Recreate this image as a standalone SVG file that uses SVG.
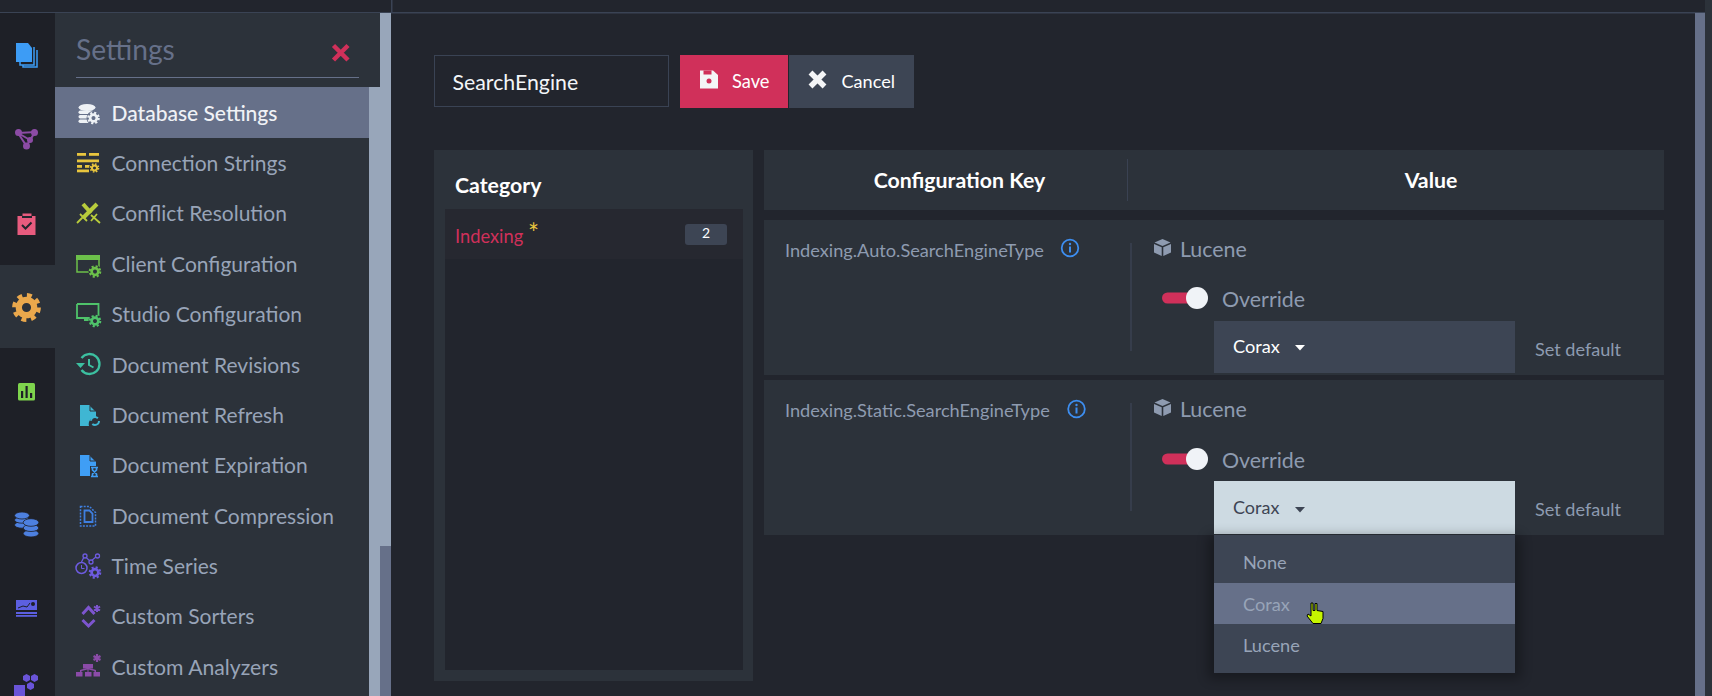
<svg xmlns="http://www.w3.org/2000/svg" xmlns:xlink="http://www.w3.org/1999/xlink" width="1712" height="696" viewBox="0 0 1712 696">
<style>
text{font-family:Lato,"Noto Sans","Liberation Sans",sans-serif}
.m{font-size:21px;fill:#98a4b8}
.k{font-size:18.2px;fill:#8e9bb0}
.h{font-size:21.3px;font-weight:700;fill:#fff}
.l{font-size:21.4px;fill:#8e9bb0}
.s{font-size:18.1px;fill:#8e9bb0}
.d{font-size:18.2px;fill:#98a4b8}
.panel{fill:#2c323a}
.dd{fill:#3d4554}
.dv{stroke:#3a4252;stroke-width:1.5}
</style>
<defs>
<g id="gear"><circle r="3.2" fill="none" stroke="currentColor" stroke-width="2.6"/><circle r="5" fill="none" stroke="currentColor" stroke-width="2" stroke-dasharray="2 1.93"/></g>
<g id="box"><path d="M0 -8.500 8 -5 0 -1.600 -8 -5Z" fill="#8e9bb0"/><path d="M-8.500 -3.600 -.8 -.2V8.500L-8.500 5Z M8.500 -3.600 .8 -.2V8.500L8.500 5Z" fill="#8e9bb0"/></g>
<g id="info"><circle r="8.300" fill="none" stroke="#3d8ef0" stroke-width="1.800"/><rect x="-1" y="-1.500" width="2" height="6" fill="#3d8ef0"/><circle cy="-4" r="1.200" fill="#3d8ef0"/></g>
<g id="tog"><rect x="0" y="-5.500" width="30" height="11" rx="5.500" fill="#d0305a"/><circle cx="35" r="11" fill="#f0f3f7"/></g>
<filter id="sh" x="-10%" y="-20%" width="120%" height="140%"><feGaussianBlur stdDeviation="6"/></filter>
</defs>
<rect width="1712" height="696" fill="#22252d"/>

<g id="chrome">
<rect x="0" y="12" width="1705" height="1.500" fill="#3a4354"/>
<rect x="391" y="0" width="1.500" height="13" fill="#3a4354"/>
<rect x="0" y="13" width="55" height="683" fill="#1e2027"/>
<rect x="0" y="265" width="55" height="83" fill="#2c323a"/>
<rect x="55" y="13" width="325" height="74" fill="#2c323a"/>
<rect x="55" y="87" width="314" height="609" fill="#2c323a"/>
<rect x="369" y="87" width="22" height="609" fill="#98a6ba"/>
<rect x="380" y="13" width="11" height="533" fill="#98a6ba"/>
<rect x="380" y="546" width="11" height="150" fill="#667089"/>
<rect x="1695" y="13" width="10" height="683" fill="#667089"/>
<rect x="1705" y="0" width="7" height="696" fill="#2c323a"/>
</g>

<g id="nav-icons">
<g id="nav-docs"><path d="M23 50v17h14V50" fill="none" stroke="#3d9cf5" stroke-width="1.500"/><path d="M20 47v18h14V47" fill="#1e2027" stroke="#3d9cf5" stroke-width="1.500"/><path d="M16 43h12l4 5v14H16Z" fill="#3d9cf5"/></g>
<g id="nav-graph" fill="none" stroke="#8c4ba5" stroke-width="2"><path d="M18 133 35 132 26.500 146Z M18 133 30 140"/><circle cx="18.500" cy="132.500" r="2.500" fill="#8c4ba5"/><circle cx="34.500" cy="132.500" r="2.500" fill="#8c4ba5"/><circle cx="26.500" cy="146" r="2.500" fill="#8c4ba5"/><circle cx="30" cy="140" r="2" fill="#8c4ba5"/></g>
<g id="nav-tasks"><path d="M17.500 216h5v-2.500h9v2.500h4v19h-18Z" fill="#e85b7e"/><path d="M22 225l3.500 3.500 6-6" fill="none" stroke="#22252d" stroke-width="2"/><rect x="22" y="216" width="10" height="2" fill="#22252d"/></g>
<g id="nav-settings" color="#eaa84c"><use xlink:href="#gear" href="#gear" transform="translate(26.500 307.500) scale(2.400)"/></g>
<g id="nav-stats"><rect x="18" y="383" width="17" height="17.500" rx="1.500" fill="#7ed44d"/><rect x="21" y="391" width="2.200" height="7" fill="#1e2027"/><rect x="25.500" y="386" width="2.200" height="12" fill="#1e2027"/><rect x="30" y="393" width="2.200" height="5" fill="#1e2027"/></g>
<g id="nav-db" fill="#4d80e0" stroke="#1e2027" stroke-width=".8"><ellipse cx="22" cy="525" rx="7.500" ry="3.200"/><ellipse cx="22" cy="520" rx="7.500" ry="3.200"/><ellipse cx="22" cy="515.500" rx="7.500" ry="3.500"/><ellipse cx="31" cy="533.500" rx="7.800" ry="3.500"/><ellipse cx="31" cy="528" rx="7.800" ry="3.500"/><ellipse cx="31" cy="522.500" rx="7.800" ry="3.800"/></g>
<g id="nav-dash" fill="#5c5fe0"><path d="M16 600h21v10H16Z"/><rect x="16" y="612" width="21" height="2"/><rect x="16" y="615" width="21" height="1.800"/><path d="M18 608l5-2 4 1 3-4" fill="none" stroke="#1e2027" stroke-width="1"/><circle cx="33" cy="604" r="2" fill="#1e2027"/></g>
<g id="nav-cluster" fill="#6a54d8"><path d="M23 676l3.500-2 3.500 2v4l-3.500 2-3.500-2Z"/><path d="M31 676l3.500-2 3.500 2v4l-3.500 2-3.500-2Z"/><path d="M27 684l3.500-2 3.500 2v4l-3.500 2-3.500-2Z"/><rect x="14" y="685" width="11" height="11"/></g>
</g>

<g id="settings-header">
<text x="76" y="60" font-size="28.200" fill="#667089">Settings</text>
<path d="M333.500 45.500l14.500 14.500M348 45.500 333.500 60" stroke="#d0305a" stroke-width="4.500"/>
<rect x="76" y="77" width="283" height="1" fill="#667089"/>
</g>

<g id="menu">
<g id="m-db"><rect x="55" y="87" width="314" height="51" fill="#667089"/>
<g fill="#eef1f5"><ellipse cx="87" cy="107.500" rx="8.500" ry="3.500"/><rect x="78.500" y="110.500" width="15" height="3.500" rx="1.700"/><rect x="78.500" y="115" width="11" height="3.500" rx="1.700"/><rect x="78.500" y="119.500" width="11" height="3.500" rx="1.700"/></g>
<circle cx="93.500" cy="118" r="7" fill="#667089"/><use xlink:href="#gear" href="#gear" color="#eef1f5" transform="translate(93.500 118) scale(1.050)"/>
<text x="111.500" y="120.500" class="m" style="fill:#f0f2f6;font-weight:500">Database Settings</text></g>

<g id="m-conn"><g fill="#e8c53e"><rect x="77" y="153" width="9" height="2.800"/><rect x="89" y="153" width="10" height="2.800"/><rect x="77" y="159.500" width="22" height="2.800"/><rect x="77" y="165" width="5" height="2.800"/><rect x="85" y="165" width="5" height="2.800"/><rect x="77" y="169.500" width="12" height="2.800"/></g><circle cx="94.500" cy="168" r="5.500" fill="#2c323a"/><use xlink:href="#gear" href="#gear" color="#e8c53e" transform="translate(94.500 168) scale(.8)"/>
<text x="111.500" y="171" class="m">Connection Strings</text></g>

<g id="m-conflict"><g stroke="#b8cc3c" fill="none"><path d="M97 204 83 218" stroke-width="4"/><path d="M77 223l9-9M80 214l7 7" stroke-width="1.800"/><path d="M83 204l8 9" stroke-width="4"/><path d="M100 223l-9-8M97 214l-6 7" stroke-width="1.800"/></g>
<text x="111.500" y="221" class="m">Conflict Resolution</text></g>

<g id="m-client"><path d="M77 256h22v16H77Z" fill="none" stroke="#6cc04a" stroke-width="1.500"/><rect x="76" y="255" width="24" height="5" fill="#6cc04a"/><circle cx="95" cy="271.500" r="6.500" fill="#2c323a"/><use xlink:href="#gear" href="#gear" color="#6cc04a" transform="translate(95 271.500) scale(1.050)"/>
<text x="111.500" y="272" class="m">Client Configuration</text></g>

<g id="m-studio"><path d="M77 304h21.500v12M92 318H77v-14M84 320h6" fill="none" stroke="#4fc36a" stroke-width="1.800"/><circle cx="95" cy="321" r="6.500" fill="#2c323a"/><use xlink:href="#gear" href="#gear" color="#4fc36a" transform="translate(95 321) scale(1.050)"/>
<text x="111.500" y="322" class="m">Studio Configuration</text></g>

<g id="m-rev"><path d="M81.500 358a10 10 0 1 1 0 12" fill="none" stroke="#3cc0a0" stroke-width="2.300"/><path d="M76 363h9l-4.500 5Z" fill="#3cc0a0"/><path d="M89 359v6l4.500 2.500" fill="none" stroke="#3cc0a0" stroke-width="2"/>
<text x="111.700" y="373" class="m">Document Revisions</text></g>

<g id="m-refresh"><path d="M80 405h9l7 7v5a7 7 0 0 0-7 9H80Z" fill="#3fb6d3"/><path d="M90 406v5h5" fill="none" stroke="#2c323a"/><circle cx="95" cy="421" r="4" fill="none" stroke="#3fb6d3" stroke-width="2" stroke-dasharray="9 3.500"/>
<text x="111.700" y="423" class="m">Document Refresh</text></g>

<g id="m-exp"><path d="M80 455h9l7 7v4h-6v10H80Z" fill="#3f9ef5"/><path d="M90 456v5h5" fill="none" stroke="#2c323a"/><path d="M91 467.500h7M91 476.500h7M92.500 468v2l4 4v2M96.500 468v2l-4 4v2" fill="none" stroke="#3f9ef5" stroke-width="1.700"/>
<text x="111.700" y="473" class="m">Document Expiration</text></g>

<g id="m-comp"><path d="M80.500 506.500h9l6 6v13.500h-15Z" fill="none" stroke="#3f7fe0" stroke-width="1.500" stroke-dasharray="2 1.200"/><path d="M84.500 510.500h5l3 3v8.500h-8Z" fill="none" stroke="#3f7fe0" stroke-width="1.800"/>
<text x="111.700" y="524" class="m">Document Compression</text></g>

<g id="m-ts"><circle cx="81.500" cy="568" r="5.500" fill="none" stroke="#6d5be0" stroke-width="1.500"/><path d="M81.500 565v3.500h3" fill="none" stroke="#6d5be0"/><path d="M81.500 562l3-6 6 5.500 6-5" fill="none" stroke="#6d5be0" stroke-width="1.300"/><g fill="#2c323a" stroke="#6d5be0" stroke-width="1.300"><circle cx="85" cy="556" r="2"/><circle cx="91" cy="562" r="2"/><circle cx="97.500" cy="556" r="2"/></g><use xlink:href="#gear" href="#gear" color="#6d5be0" transform="translate(95 572.500) scale(1.050)"/>
<text x="111.500" y="574" class="m">Time Series</text></g>

<g id="m-sort"><path d="M82.500 614l6-6.500 6 6.500M82.500 620l6 6 6-6" fill="none" stroke="#7d55cf" stroke-width="3"/><path d="M97 605v7M94 606.500l6 4M100 606.500l-6 4" stroke="#7d55cf" stroke-width="2"/>
<text x="111.500" y="624" class="m">Custom Sorters</text></g>

<g id="m-an"><g fill="#8b4ba8"><rect x="83" y="664" width="10" height="4.500"/><path d="M80 673v-3l7-2h2l7 2v3h-1.500v-2l-6-1.500v3.500h-1v-3.500l-6 1.500v2Z"/><rect x="76" y="672" width="6.500" height="4.500"/><rect x="85" y="672" width="6.500" height="4.500"/><rect x="93.500" y="672" width="6.500" height="4.500"/></g><path d="M97 654v8M93.500 656l7 4M100.500 656l-7 4" stroke="#8b4ba8" stroke-width="2.200"/>
<text x="111.500" y="674.500" class="m" style="font-size:21.200px">Custom Analyzers</text></g>
</g>

<g id="toolbar">
<g id="name-input"><rect x="434.500" y="55.500" width="234" height="51" fill="#22252d" stroke="#3a4354"/><text x="452.500" y="89.500" font-size="21.300" fill="#f2f5f8">SearchEngine</text></g>
<g id="save"><rect x="680" y="55" width="108" height="53" fill="#d0305a"/><path d="M700 70.500h13l5 4.500v13.500h-18Z" fill="#f4f5f7"/><rect x="703.500" y="70.500" width="8" height="4" fill="#d0305a"/><circle cx="709" cy="81" r="2.500" fill="#d0305a"/><text x="732" y="88" font-size="18.300" fill="#fff">Save</text></g>
<g id="cancel"><rect x="789" y="55" width="125" height="53" fill="#3d4554"/><path d="M810.500 72.500l14 14M824.500 72.500l-14 14" stroke="#f4f5f7" stroke-width="5.500"/><text x="841.500" y="88" font-size="18.100" fill="#fff">Cancel</text></g>
</g>

<g id="category">
<rect x="434" y="150" width="319" height="531" class="panel"/>
<rect x="445" y="209" width="298" height="461" fill="#22252d"/>
<rect x="445" y="209" width="298" height="50" fill="#262830"/>
<text x="455" y="192.500" class="h">Category</text>
<text x="455" y="243" font-size="18.300" fill="#d0305a">Indexing</text>
<text x="528" y="243" font-size="26" fill="#e8c53e">*</text>
<rect x="685" y="224" width="42" height="21" rx="3" fill="#3d4554"/>
<text x="706" y="238" font-size="14" fill="#fff" text-anchor="middle">2</text>
</g>

<g id="config-header">
<rect x="764" y="150" width="900" height="60" class="panel"/>
<rect x="1127" y="159" width="1" height="42" fill="#3a4252"/>
<text x="959.500" y="188" class="h" text-anchor="middle">Configuration Key</text>
<text x="1431" y="188" class="h" text-anchor="middle">Value</text>
</g>

<g id="row-auto">
<rect x="764" y="220" width="900" height="155" class="panel"/>
<text x="785" y="257" class="k">Indexing.Auto.SearchEngineType</text>
<use xlink:href="#info" href="#info" x="1070" y="248"/>
<path d="M1131 243v108" class="dv"/>
<use xlink:href="#box" href="#box" x="1162.500" y="247.500"/>
<text x="1180" y="256.500" class="l">Lucene</text>
<use xlink:href="#tog" href="#tog" x="1162" y="298"/>
<text x="1222" y="307" class="l">Override</text>
<rect x="1214" y="321" width="301" height="52" class="dd"/>
<text x="1233" y="353" class="d" style="fill:#fff">Corax</text>
<path d="M1295 345h10l-5 5.500Z" fill="#fff"/>
<text x="1535" y="355.500" class="s">Set default</text>
</g>

<g id="row-static">
<rect x="764" y="380" width="900" height="155" class="panel"/>
<text x="785" y="417" class="k">Indexing.Static.SearchEngineType</text>
<use xlink:href="#info" href="#info" x="1076.500" y="409"/>
<path d="M1131 403v108" class="dv"/>
<use xlink:href="#box" href="#box" x="1162.500" y="407.500"/>
<text x="1180" y="416.500" class="l">Lucene</text>
<use xlink:href="#tog" href="#tog" x="1162" y="459"/>
<text x="1222" y="467.500" class="l">Override</text>
<rect x="1214" y="481" width="301" height="53" fill="#cddae2"/>
<text x="1233" y="514" font-size="18" fill="#3d4554">Corax</text>
<path d="M1295 507h10l-5 5.500Z" fill="#3d4554"/>
<text x="1535" y="516" class="s">Set default</text>
</g>

<g id="dropdown">
<rect x="1208" y="535" width="313" height="144" fill="#000" opacity=".3" filter="url(#sh)"/>
<rect x="1214" y="535" width="301" height="138" class="dd"/>
<rect x="1214" y="583" width="301" height="41" fill="#667089"/>
<text x="1243" y="569" class="d">None</text>
<text x="1243" y="610.500" class="d" style="fill:#98a4b8">Corax</text>
<text x="1243" y="652" class="d">Lucene</text>
<path d="M1311 603v13l-3-2-1 2 6 7.500h8l2-5v-7l-6-1v-7h-2v7l-2 0v-7.500Z" fill="#c6f500" stroke="#000" stroke-width="1"/>
</g>
</svg>
